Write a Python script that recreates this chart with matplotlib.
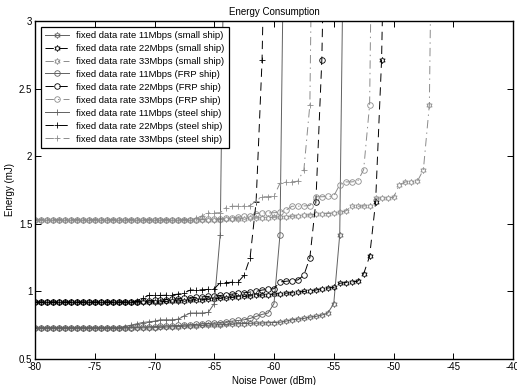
import numpy as np
import matplotlib
matplotlib.use('Agg')
import matplotlib.pyplot as plt
from matplotlib.path import Path

plt.rcParams['font.family'] = ['Liberation Sans', 'DejaVu Sans']
plt.rcParams['font.size'] = 7
plt.rcParams['lines.scale_dashes'] = False
plt.rcParams['axes.unicode_minus'] = False

# noise power grid starts at -80 dBm, step 0.5 dBm; each series stops after it leaves the plot
x_start = -80.0
x_step = 0.5

small_11 = [0.73] * 20 + [
    0.732, 0.734, 0.736, 0.738, 0.74, 0.742, 0.744, 0.746, 0.748, 0.75,
    0.752, 0.754, 0.756, 0.758, 0.76, 0.762, 0.764, 0.765, 0.766, 0.768,
    0.77, 0.772, 0.78, 0.79, 0.795, 0.80, 0.81, 0.815, 0.825, 0.84,
    0.91, 1.42, 5.0]
small_22 = [0.92] * 20 + [
    0.922, 0.924, 0.926, 0.928, 0.93, 0.932, 0.935, 0.938, 0.94, 0.943,
    0.946, 0.95, 0.953, 0.956, 0.96, 0.963, 0.966, 0.97, 0.973, 0.976,
    0.98, 0.983, 0.987, 0.99, 0.995, 1.0, 1.005, 1.01, 1.02, 1.025,
    1.03, 1.06, 1.065, 1.07, 1.075, 1.13, 1.26, 1.66, 2.71, 5.0]
small_33 = [1.53] * 32 + [
    1.532, 1.534, 1.536, 1.538, 1.54, 1.542, 1.544, 1.546, 1.548, 1.55,
    1.553, 1.556, 1.56, 1.563, 1.566, 1.57, 1.573, 1.576, 1.58, 1.585,
    1.595, 1.63, 1.63, 1.632, 1.635, 1.69, 1.69, 1.692, 1.695, 1.79,
    1.81, 1.81, 1.815, 1.90, 2.38, 6.0]
frp_11 = [0.73] * 16 + [
    0.732, 0.734, 0.736, 0.738, 0.74, 0.742, 0.744, 0.746, 0.748, 0.75,
    0.753, 0.756, 0.76, 0.763, 0.766, 0.77, 0.775, 0.78, 0.785, 0.79,
    0.80, 0.815, 0.83, 0.84, 0.91, 1.42, 5.0]
frp_22 = [0.92] * 16 + [
    0.922, 0.925, 0.928, 0.93, 0.933, 0.936, 0.94, 0.943, 0.946, 0.95,
    0.953, 0.956, 0.96, 0.963, 0.966, 0.97, 0.975, 0.98, 0.985, 0.99,
    0.995, 1.0, 1.01, 1.015, 1.02, 1.07, 1.075, 1.08, 1.085, 1.12,
    1.25, 1.66, 2.71, 5.0]
frp_33 = [1.53] * 28 + [
    1.532, 1.534, 1.536, 1.538, 1.54, 1.545, 1.55, 1.555, 1.56, 1.575,
    1.58, 1.58, 1.582, 1.585, 1.60, 1.63, 1.63, 1.632, 1.635, 1.70,
    1.70, 1.702, 1.705, 1.79, 1.81, 1.81, 1.815, 1.90, 2.38, 6.0]
steel_11 = [0.73] * 15 + [
    0.74, 0.75, 0.76, 0.77, 0.775, 0.78, 0.79, 0.79, 0.79, 0.795,
    0.82, 0.84, 0.84, 0.84, 0.845, 0.91, 1.42, 5.0]
steel_22 = [0.92] * 17 + [
    0.93, 0.95, 0.97, 0.97, 0.97, 0.972, 0.975, 0.98, 0.99, 1.01,
    1.01, 1.012, 1.015, 1.02, 1.065, 1.065, 1.068, 1.07, 1.12, 1.25,
    1.66, 2.71, 5.0]
steel_33 = [1.53] * 27 + [
    1.54, 1.56, 1.58, 1.58, 1.582, 1.62, 1.63, 1.63, 1.632, 1.635,
    1.67, 1.70, 1.70, 1.705, 1.80, 1.81, 1.81, 1.815, 1.90, 2.38, 6.0]

labels = [
    'fixed data rate 11Mbps (small ship)',
    'fixed data rate 22Mbps (small ship)',
    'fixed data rate 33Mbps (small ship)',
    'fixed data rate 11Mbps (FRP ship)',
    'fixed data rate 22Mbps (FRP ship)',
    'fixed data rate 33Mbps (FRP ship)',
    'fixed data rate 11Mbps (steel ship)',
    'fixed data rate 22Mbps (steel ship)',
    'fixed data rate 33Mbps (steel ship)',
]

# hexagram marker (two overlapping triangles)
ang = np.deg2rad(90 + 30 * np.arange(12))
rad = np.where(np.arange(12) % 2 == 0, 1.0, 1 / np.sqrt(3))
verts = np.column_stack([rad * np.cos(ang), rad * np.sin(ang)])
verts = np.vstack([verts, verts[:1]])
hexagram = Path(verts, closed=True)

rate_style = {
    11: dict(color='0.38', linestyle='-'),
    22: dict(color='black', linestyle=(0, (6, 4))),
    33: dict(color='0.55', linestyle=(0, (6, 3, 1, 3))),
}
ship_marker = {'small': (hexagram, 4.2), 'FRP': ('o', 4.0), 'steel': ('+', 5.0)}

series = [
    (small_11, 'small', 11), (small_22, 'small', 22), (small_33, 'small', 33),
    (frp_11, 'FRP', 11), (frp_22, 'FRP', 22), (frp_33, 'FRP', 33),
    (steel_11, 'steel', 11), (steel_22, 'steel', 22), (steel_33, 'steel', 33),
]

fig = plt.figure(figsize=(5.17, 3.85), dpi=100)
ax = fig.add_axes([0.0677, 0.0675, 0.9246, 0.878])

for (y, ship, rate), lab in zip(series, labels):
    x = x_start + x_step * np.arange(len(y))
    mk, ms = ship_marker[ship]
    st = rate_style[rate]
    ax.plot(x, y, marker=mk, markersize=ms, markerfacecolor='none',
            markeredgecolor=st['color'], markeredgewidth=0.6,
            color=st['color'], linestyle=st['linestyle'], linewidth=0.7,
            label=lab)

ax.set_xlim(-80, -40)
ax.set_ylim(0.5, 3)
ax.set_xticks(np.arange(-80, -39, 5))
ax.set_yticks([0.5, 1, 1.5, 2, 2.5, 3])
ax.set_yticklabels(['0.5', '1', '1.5', '2', '2.5', '3'])
ax.tick_params(direction='in', top=True, right=True, length=4, width=0.7, labelsize=7, pad=2)
for s in ax.spines.values():
    s.set_linewidth(1.0)

ax.set_title('Energy Consumption', fontsize=7, pad=4)
ax.set_xlabel('Noise Power (dBm)', fontsize=7, labelpad=3)
ax.set_ylabel('Energy (mJ)', fontsize=7, labelpad=3)

leg = ax.legend(loc='upper left', fontsize=6.8, frameon=True, fancybox=False,
                edgecolor='black', framealpha=1, labelspacing=0.42,
                handlelength=2.5, handletextpad=0.8, borderpad=0.45,
                borderaxespad=0.6)
leg.get_frame().set_linewidth(0.9)

fig.savefig('out.png', dpi=100)
